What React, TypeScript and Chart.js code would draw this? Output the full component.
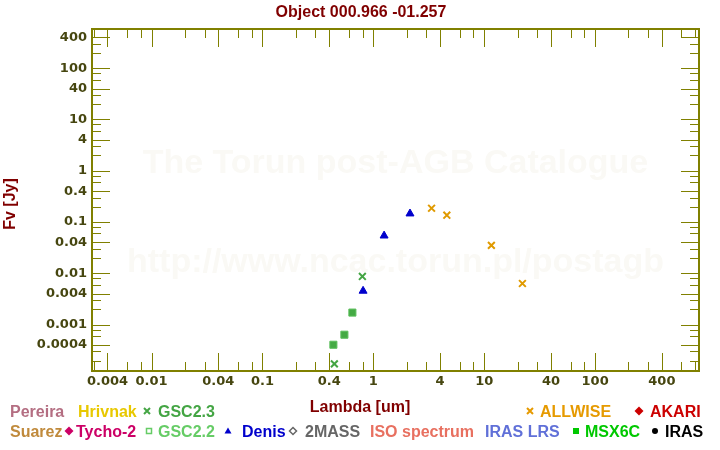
import React, { useEffect, useRef } from 'react';
import { Chart, registerables } from 'chart.js';

Chart.register(...registerables);

// ---- texts ----
const titleText = 'Object 000.966 -01.257';
const xAxisTitle = 'Lambda [um]';
const yAxisTitle = 'Fv [Jy]';
const watermarkLines = ['The Torun post-AGB Catalogue', 'http://www.ncac.torun.pl/postagb'];

// ---- data (wavelength in um, flux in Jy) ----
const gsc23Lambda = [0.445, 0.796];
const gsc23Flux = [0.000172, 0.0087];
const gsc22Lambda = [0.436, 0.548, 0.647];
const gsc22Flux = [0.000406, 0.000637, 0.00172];
const denisLambda = [0.808, 1.25, 2.14];
const denisFlux = [0.00455, 0.0542, 0.146];
const allwiseLambda = [3.35, 4.6, 11.6, 22.1];
const allwiseFlux = [0.186, 0.136, 0.0352, 0.00634];

// ---- axes ----
const xMin = 0.0029;
const xMax = 865;
const yMin = 0.000125;
const yMax = 580;
const xLabeledTicks = [0.004, 0.01, 0.04, 0.1, 0.4, 1, 4, 10, 40, 100, 400];
const xMinorTicks = [0.003, 0.006, 0.008, 0.02, 0.03, 0.06, 0.08, 0.2, 0.3, 0.6, 0.8, 2, 3, 6, 8, 20, 30, 60, 80, 200, 300, 600, 800];
const yLabeledTicks = [400, 100, 40, 10, 4, 1, 0.4, 0.1, 0.04, 0.01, 0.004, 0.001, 0.0004];
const yMinorTicks = [300, 200, 80, 60, 30, 20, 8, 6, 3, 2, 0.8, 0.6, 0.3, 0.2, 0.08, 0.06, 0.03, 0.02, 0.008, 0.006, 0.003, 0.002, 0.0008, 0.0006, 0.0003, 0.0002];

// ---- legend ----
const legendLabels = ['Pereira', 'Hrivnak', 'GSC2.3', 'ALLWISE', 'AKARI', 'Suarez', 'Tycho-2', 'GSC2.2', 'Denis', '2MASS', 'ISO spectrum', 'IRAS LRS', 'MSX6C', 'IRAS'];
const legendColors = ['#b46e82', '#e8c800', '#44a544', '#e69a00', '#cc0000', '#c08a3c', '#cc0066', '#66cc66', '#0000cc', '#666666', '#e87060', '#6070d8', '#00c800', '#000000'];
const legendSymbols = ['', '', 'cross', 'cross', 'diamond', '', 'diamond', 'squareOpen', 'triangle', 'diamondOpen', '', '', 'square', 'circle'];

// layout of the legend (pixels)
const legendLayout = {
  row: [0, 0, 0, 0, 0, 1, 1, 1, 1, 1, 1, 1, 1, 1],
  textX: [10, 78, 158, 540, 650, 10, 76, 158, 242, 305, 370, 485, 585, 665],
  symX: [0, 0, 147, 530, 639, 0, 69, 149, 228, 293, 0, 0, 576, 655],
  baseline: [416.5, 436.5],
};

const OLIVE = '#808000';
const TICK_LABEL = '#464610';
const DARK_RED = '#800000';
const SANS = '"Liberation Sans", Arial, Helvetica, sans-serif';

function drawSymbol(ctx: CanvasRenderingContext2D, kind: string, x: number, y: number, color: string) {
  ctx.save();
  ctx.strokeStyle = color;
  ctx.fillStyle = color;
  ctx.lineWidth = 1.5;
  ctx.beginPath();
  if (kind === 'cross') {
    const r = 3;
    ctx.lineWidth = 2;
    ctx.moveTo(x - r, y - r); ctx.lineTo(x + r, y + r);
    ctx.moveTo(x + r, y - r); ctx.lineTo(x - r, y + r);
    ctx.stroke();
  } else if (kind === 'diamond') {
    const r = 4.5;
    ctx.moveTo(x, y - r); ctx.lineTo(x + r, y); ctx.lineTo(x, y + r); ctx.lineTo(x - r, y); ctx.closePath();
    ctx.fill();
  } else if (kind === 'diamondOpen') {
    const r = 3.5;
    ctx.moveTo(x, y - r); ctx.lineTo(x + r, y); ctx.lineTo(x, y + r); ctx.lineTo(x - r, y); ctx.closePath();
    ctx.stroke();
  } else if (kind === 'squareOpen') {
    ctx.rect(x - 2.5, y - 2.5, 5, 5);
    ctx.stroke();
  } else if (kind === 'square') {
    ctx.rect(x - 3, y - 3, 6, 6);
    ctx.fill();
  } else if (kind === 'triangle') {
    ctx.moveTo(x, y - 3.5); ctx.lineTo(x + 3.5, y + 2.5); ctx.lineTo(x - 3.5, y + 2.5); ctx.closePath();
    ctx.fill();
  } else if (kind === 'circle') {
    ctx.arc(x, y, 3, 0, Math.PI * 2);
    ctx.fill();
  }
  ctx.restore();
}

const decorPlugin = {
  id: 'decor',
  beforeDatasetsDraw(chart: any) {
    const { ctx, chartArea: a } = chart;
    ctx.save();
    ctx.font = 'bold 34px ' + SANS;
    ctx.fillStyle = '#faf9f5';
    ctx.textAlign = 'center';
    ctx.textBaseline = 'middle';
    const cx = (a.left + a.right) / 2;
    ctx.fillText(watermarkLines[0], cx, a.top + 135);
    ctx.fillText(watermarkLines[1], cx, a.top + 234);
    ctx.restore();
  },
  afterDraw(chart: any) {
    const { ctx, chartArea: a, scales } = chart;
    const xs = scales.x;
    const ys = scales.y;
    ctx.save();
    // inward ticks
    ctx.strokeStyle = OLIVE;
    ctx.lineWidth = 1;
    ctx.beginPath();
    const xAll = [...xLabeledTicks.map((v) => [v, 18]), ...xMinorTicks.map((v) => [v, 9])];
    for (const [v, len] of xAll) {
      if (v < xMin || v > xMax) continue;
      const px = Math.round(xs.getPixelForValue(v)) + 0.5;
      ctx.moveTo(px, a.bottom); ctx.lineTo(px, a.bottom - len);
      ctx.moveTo(px, a.top); ctx.lineTo(px, a.top + len);
    }
    const yAll = [...yLabeledTicks.map((v) => [v, 18]), ...yMinorTicks.map((v) => [v, 9])];
    for (const [v, len] of yAll) {
      if (v < yMin || v > yMax) continue;
      const py = Math.round(ys.getPixelForValue(v)) + 0.5;
      ctx.moveTo(a.left, py); ctx.lineTo(a.left + len, py);
      ctx.moveTo(a.right, py); ctx.lineTo(a.right - len, py);
    }
    ctx.stroke();
    // frame
    ctx.lineWidth = 2;
    ctx.strokeRect(a.left, a.top, a.right - a.left, a.bottom - a.top);

    // title
    ctx.fillStyle = DARK_RED;
    ctx.font = 'bold 16px ' + SANS;
    ctx.textAlign = 'center';
    ctx.textBaseline = 'alphabetic';
    ctx.fillText(titleText, 361, 17);
    // x axis title
    ctx.fillText(xAxisTitle, 360, 411.5);
    // y axis title
    ctx.save();
    ctx.translate(15, (a.top + a.bottom) / 2 + 4);
    ctx.rotate(-Math.PI / 2);
    ctx.fillText(yAxisTitle, 0, 0);
    ctx.restore();

    // legend
    ctx.textAlign = 'left';
    ctx.font = 'bold 16px ' + SANS;
    legendLabels.forEach((label, i) => {
      const base = legendLayout.baseline[legendLayout.row[i]];
      const color = legendColors[i];
      if (legendSymbols[i]) drawSymbol(ctx, legendSymbols[i], legendLayout.symX[i], base - 5.5, color);
      ctx.fillStyle = color;
      ctx.fillText(label, legendLayout.textX[i], base);
    });
    ctx.restore();
  },
};

const toPoints = (xs: number[], ys: number[]) => xs.map((x, i) => ({ x, y: ys[i] }));

export default function App() {
  const ref = useRef<HTMLCanvasElement>(null);
  useEffect(() => {
    const tickFont = { family: '"DejaVu Sans", Verdana, sans-serif', size: 13, weight: 'bold' as const };
    const chart = new Chart(ref.current as HTMLCanvasElement, {
      type: 'scatter',
      data: {
        datasets: [
          {
            label: 'GSC2.2',
            data: toPoints(gsc22Lambda, gsc22Flux),
            pointStyle: 'rect',
            pointRadius: 5,
            backgroundColor: '#44aa44',
            borderColor: '#5cbf5c',
            borderWidth: 1,
          },
          {
            label: 'GSC2.3',
            data: toPoints(gsc23Lambda, gsc23Flux),
            pointStyle: 'crossRot',
            pointRadius: 4.8,
            backgroundColor: '#44a544',
            borderColor: '#44a544',
            borderWidth: 2,
          },
          {
            label: 'Denis',
            data: toPoints(denisLambda, denisFlux),
            pointStyle: 'triangle',
            pointRadius: 4.6,
            backgroundColor: '#0000cc',
            borderColor: '#0000cc',
            borderWidth: 1,
          },
          {
            label: 'ALLWISE',
            data: toPoints(allwiseLambda, allwiseFlux),
            pointStyle: 'crossRot',
            pointRadius: 4.8,
            backgroundColor: '#e09a00',
            borderColor: '#e09a00',
            borderWidth: 2,
          },
        ],
      },
      options: {
        responsive: false,
        animation: false,
        events: [],
        layout: { padding: { top: 29, right: 21, left: 0, bottom: 0 } },
        plugins: {
          legend: { display: false },
          tooltip: { enabled: false },
          title: { display: false },
        },
        scales: {
          x: {
            type: 'logarithmic',
            position: 'bottom',
            min: xMin,
            max: xMax,
            grid: { display: false, drawTicks: false },
            border: { display: false },
            ticks: {
              font: tickFont,
              color: TICK_LABEL,
              padding: 3,
              autoSkip: false,
              maxRotation: 0,
              minRotation: 0,
              callback: (v: any) => String(v),
            },
            afterBuildTicks: (scale: any) => {
              scale.ticks = xLabeledTicks.map((v) => ({ value: v }));
            },
            afterFit: (scale: any) => {
              scale.height = 79;
            },
          },
          y: {
            type: 'logarithmic',
            position: 'left',
            min: yMin,
            max: yMax,
            grid: { display: false, drawTicks: false },
            border: { display: false },
            ticks: {
              font: tickFont,
              color: TICK_LABEL,
              padding: 5,
              autoSkip: false,
              callback: (v: any) => String(v),
            },
            afterBuildTicks: (scale: any) => {
              scale.ticks = yLabeledTicks.map((v) => ({ value: v }));
            },
            afterFit: (scale: any) => {
              scale.width = 92;
            },
          },
        },
      },
      plugins: [decorPlugin],
    });
    return () => chart.destroy();
  }, []);
  return (
    <div style={{ position: 'fixed', left: 0, top: 0, width: 720, height: 450, background: '#ffffff' }}>
      <canvas ref={ref} width={720} height={450} style={{ display: 'block', width: 720, height: 450 }} />
    </div>
  );
}
